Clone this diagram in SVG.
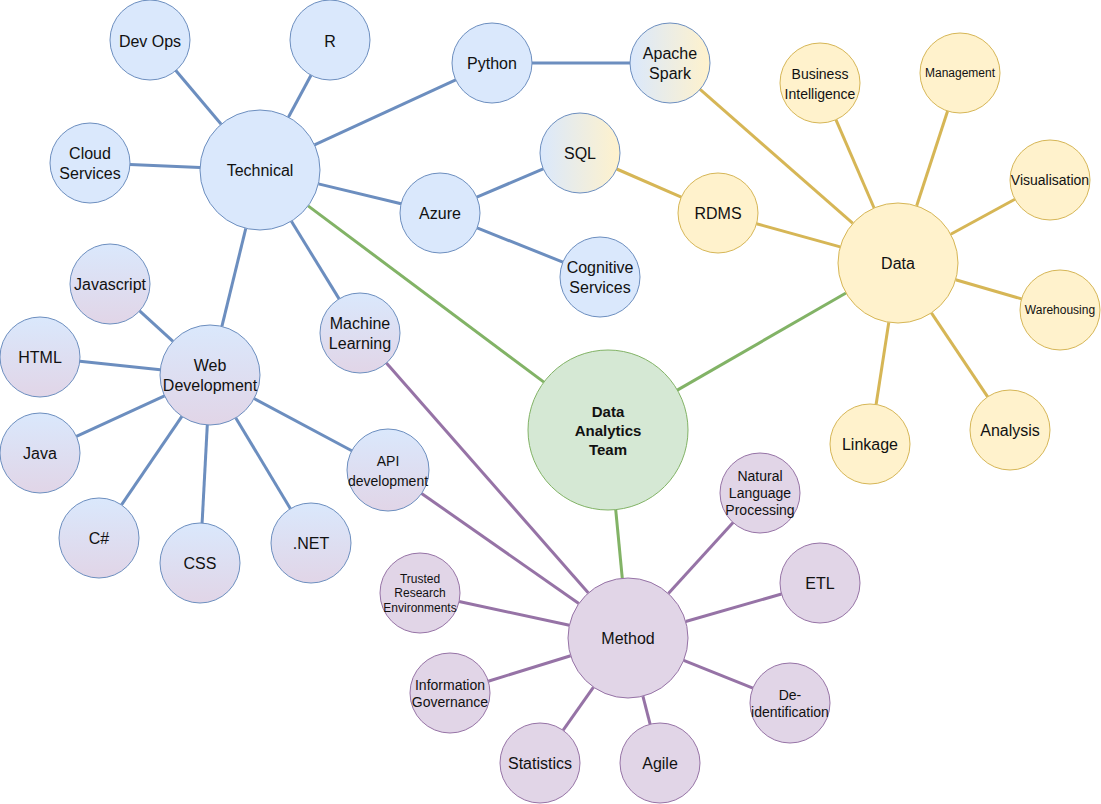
<svg xmlns="http://www.w3.org/2000/svg" width="1101" height="804" viewBox="0 0 1101 804">
<defs>
<linearGradient id="gBP" x1="0" y1="0" x2="0" y2="1"><stop offset="0" stop-color="#dae8fc"/><stop offset="1" stop-color="#e1d5e7"/></linearGradient>
<linearGradient id="gBY" x1="0" y1="0" x2="1" y2="0"><stop offset="0" stop-color="#dae8fc"/><stop offset="1" stop-color="#fff2cc"/></linearGradient>
<style>
.blue{fill:#dae8fc;stroke:#6c8ebf;stroke-width:1}
.bp{fill:url(#gBP);stroke:#6c8ebf;stroke-width:1}
.by{fill:url(#gBY);stroke:#6c8ebf;stroke-width:1}
.yel{fill:#fff2cc;stroke:#d6b656;stroke-width:1}
.grn{fill:#d5e8d4;stroke:#82b366;stroke-width:1}
.pur{fill:#e1d5e7;stroke:#9673a6;stroke-width:1}
text{font-family:"Liberation Sans",Arial,Helvetica,sans-serif;font-size:16px;fill:#111;text-anchor:middle;dominant-baseline:central}
.s14{font-size:14px}
.s12{font-size:12px}
.bold{font-weight:bold;font-size:15px}
.eb{stroke:#6c8ebf;stroke-width:3;fill:none}
.ey{stroke:#d6b656;stroke-width:3;fill:none}
.eg{stroke:#82b366;stroke-width:3;fill:none}
.ep{stroke:#9673a6;stroke-width:3;fill:none}
</style>
</defs>
<g id="connectors">
<line class="eb" x1="221.2" y1="124.2" x2="175.8" y2="70.5"/>
<line class="eb" x1="288.4" y1="117.2" x2="311.0" y2="75.2"/>
<line class="eb" x1="314.5" y1="144.9" x2="455.7" y2="79.8"/>
<line class="eb" x1="200.0" y1="167.5" x2="130.0" y2="164.6"/>
<line class="eb" x1="318.4" y1="183.9" x2="401.1" y2="203.7"/>
<line class="eb" x1="245.8" y1="228.3" x2="221.9" y2="326.4"/>
<line class="eb" x1="291.4" y1="221.2" x2="339.1" y2="298.9"/>
<line class="eb" x1="532" y1="63" x2="630" y2="63"/>
<line class="eb" x1="476.8" y1="197.2" x2="543.2" y2="168.8"/>
<line class="eb" x1="477.1" y1="227.9" x2="562.9" y2="262.1"/>
<line class="eb" x1="173.0" y1="341.4" x2="139.6" y2="310.9"/>
<line class="eb" x1="160.3" y1="369.7" x2="79.8" y2="361.2"/>
<line class="eb" x1="164.5" y1="395.9" x2="76.4" y2="436.3"/>
<line class="eb" x1="181.9" y1="416.3" x2="121.5" y2="504.9"/>
<line class="eb" x1="207.3" y1="424.9" x2="202.1" y2="523.1"/>
<line class="eb" x1="235.8" y1="417.9" x2="290.4" y2="508.7"/>
<line class="eb" x1="254.1" y1="398.5" x2="351.8" y2="450.7"/>
<line class="ey" x1="700.1" y1="89.4" x2="852.9" y2="223.4"/>
<line class="ey" x1="616.7" y1="169.0" x2="681.3" y2="197.1"/>
<line class="ey" x1="756.5" y1="223.7" x2="840.2" y2="246.9"/>
<line class="ey" x1="874.1" y1="208.0" x2="835.9" y2="119.7"/>
<line class="ey" x1="916.6" y1="206.0" x2="947.6" y2="111.0"/>
<line class="ey" x1="950.7" y1="234.2" x2="1014.9" y2="199.2"/>
<line class="ey" x1="955.6" y1="279.7" x2="1021.6" y2="298.9"/>
<line class="ey" x1="931.4" y1="312.8" x2="987.7" y2="396.8"/>
<line class="ey" x1="888.8" y1="322.3" x2="876.1" y2="404.5"/>
<line class="eg" x1="308.1" y1="205.9" x2="543.9" y2="382.1"/>
<line class="eg" x1="846.0" y1="293.0" x2="677.3" y2="390.1"/>
<line class="eg" x1="615.7" y1="509.6" x2="622.3" y2="578.3"/>
<line class="ep" x1="386.4" y1="363.0" x2="588.4" y2="592.9"/>
<line class="ep" x1="421.6" y1="493.5" x2="578.8" y2="603.6"/>
<line class="ep" x1="569.4" y1="625.3" x2="459.1" y2="601.5"/>
<line class="ep" x1="570.7" y1="655.7" x2="488.2" y2="681.2"/>
<line class="ep" x1="593.5" y1="687.1" x2="563.0" y2="730.3"/>
<line class="ep" x1="642.9" y1="696.1" x2="650.1" y2="724.2"/>
<line class="ep" x1="683.7" y1="660.3" x2="752.9" y2="688.1"/>
<line class="ep" x1="685.7" y1="621.5" x2="781.5" y2="594.0"/>
<line class="ep" x1="668.4" y1="593.6" x2="733.1" y2="522.6"/>
</g>
<g id="devops"><circle class="blue" cx="150" cy="40" r="40"/><text x="150" y="41">Dev Ops</text></g>
<g id="r"><circle class="blue" cx="330" cy="40" r="40"/><text x="330" y="41">R</text></g>
<g id="python"><circle class="blue" cx="492" cy="63" r="40"/><text x="492" y="63">Python</text></g>
<g id="spark"><circle class="by" cx="670" cy="63" r="40"/><text x="670"><tspan x="670" y="53">Apache</tspan><tspan x="670" y="73">Spark</tspan></text></g>
<g id="cloud"><circle class="blue" cx="90" cy="163" r="40"/><text x="90"><tspan x="90" y="153">Cloud</tspan><tspan x="90" y="173">Services</tspan></text></g>
<g id="technical"><circle class="blue" cx="260" cy="170" r="60"/><text x="260" y="170">Technical</text></g>
<g id="sql"><circle class="by" cx="580" cy="153" r="40"/><text x="580" y="153">SQL</text></g>
<g id="azure"><circle class="blue" cx="440" cy="213" r="40"/><text x="440" y="213">Azure</text></g>
<g id="rdms"><circle class="yel" cx="718" cy="213" r="40"/><text x="718" y="213">RDMS</text></g>
<g id="cognitive"><circle class="blue" cx="600" cy="277" r="40"/><text x="600"><tspan x="600" y="267">Cognitive</tspan><tspan x="600" y="287">Services</tspan></text></g>
<g id="bi"><circle class="yel" cx="820" cy="83" r="40"/><text class="s14" x="820"><tspan x="820" y="74">Business</tspan><tspan x="820" y="94">Intelligence</tspan></text></g>
<g id="management"><circle class="yel" cx="960" cy="73" r="40"/><text class="s12" x="960" y="73">Management</text></g>
<g id="visualisation"><circle class="yel" cx="1050" cy="180" r="40"/><text class="s14" x="1050" y="180">Visualisation</text></g>
<g id="data"><circle class="yel" cx="898" cy="263" r="60"/><text x="898" y="263">Data</text></g>
<g id="warehousing"><circle class="yel" cx="1060" cy="310" r="40"/><text class="s12" x="1060" y="310">Warehousing</text></g>
<g id="analysis"><circle class="yel" cx="1010" cy="430" r="40"/><text x="1010" y="430">Analysis</text></g>
<g id="linkage"><circle class="yel" cx="870" cy="444" r="40"/><text x="870" y="444">Linkage</text></g>
<g id="javascript"><circle class="bp" cx="110" cy="284" r="40"/><text x="110" y="284">Javascript</text></g>
<g id="html"><circle class="bp" cx="40" cy="357" r="40"/><text x="40" y="357">HTML</text></g>
<g id="webdev"><circle class="bp" cx="210" cy="375" r="50"/><text x="210"><tspan x="210" y="365">Web</tspan><tspan x="210" y="385">Development</tspan></text></g>
<g id="ml"><circle class="bp" cx="360" cy="333" r="40"/><text x="360"><tspan x="360" y="323">Machine</tspan><tspan x="360" y="343">Learning</tspan></text></g>
<g id="java"><circle class="bp" cx="40" cy="453" r="40"/><text x="40" y="453">Java</text></g>
<g id="api"><circle class="bp" cx="388" cy="470" r="41"/><text class="s14" x="388"><tspan x="388" y="461">API</tspan><tspan x="388" y="481">development</tspan></text></g>
<g id="csharp"><circle class="bp" cx="99" cy="538" r="40"/><text x="99" y="538">C#</text></g>
<g id="css"><circle class="bp" cx="200" cy="563" r="40"/><text x="200" y="563">CSS</text></g>
<g id="dotnet"><circle class="bp" cx="311" cy="543" r="40"/><text x="311" y="543">.NET</text></g>
<g id="dat"><circle class="grn" cx="608" cy="430" r="80"/><text class="bold" x="608"><tspan x="608" y="411">Data</tspan><tspan x="608" y="430">Analytics</tspan><tspan x="608" y="449">Team</tspan></text></g>
<g id="nlp"><circle class="pur" cx="760" cy="493" r="40"/><text class="s14" x="760"><tspan x="760" y="476">Natural</tspan><tspan x="760" y="493">Language</tspan><tspan x="760" y="510">Processing</tspan></text></g>
<g id="etl"><circle class="pur" cx="820" cy="583" r="40"/><text x="820" y="583">ETL</text></g>
<g id="tre"><circle class="pur" cx="420" cy="593" r="40"/><text class="s12" x="420"><tspan x="420" y="578.5">Trusted</tspan><tspan x="420" y="593">Research</tspan><tspan x="420" y="607.5">Environments</tspan></text></g>
<g id="method"><circle class="pur" cx="628" cy="638" r="60"/><text x="628" y="638">Method</text></g>
<g id="ig"><circle class="pur" cx="450" cy="693" r="40"/><text class="s14" x="450"><tspan x="450" y="685">Information</tspan><tspan x="450" y="701.7">Governance</tspan></text></g>
<g id="deid"><circle class="pur" cx="790" cy="703" r="40"/><text class="s14" x="790"><tspan x="790" y="695">De-</tspan><tspan x="790" y="712">identification</tspan></text></g>
<g id="statistics"><circle class="pur" cx="540" cy="763" r="40"/><text x="540" y="763">Statistics</text></g>
<g id="agile"><circle class="pur" cx="660" cy="763" r="40"/><text x="660" y="763">Agile</text></g>
</svg>
